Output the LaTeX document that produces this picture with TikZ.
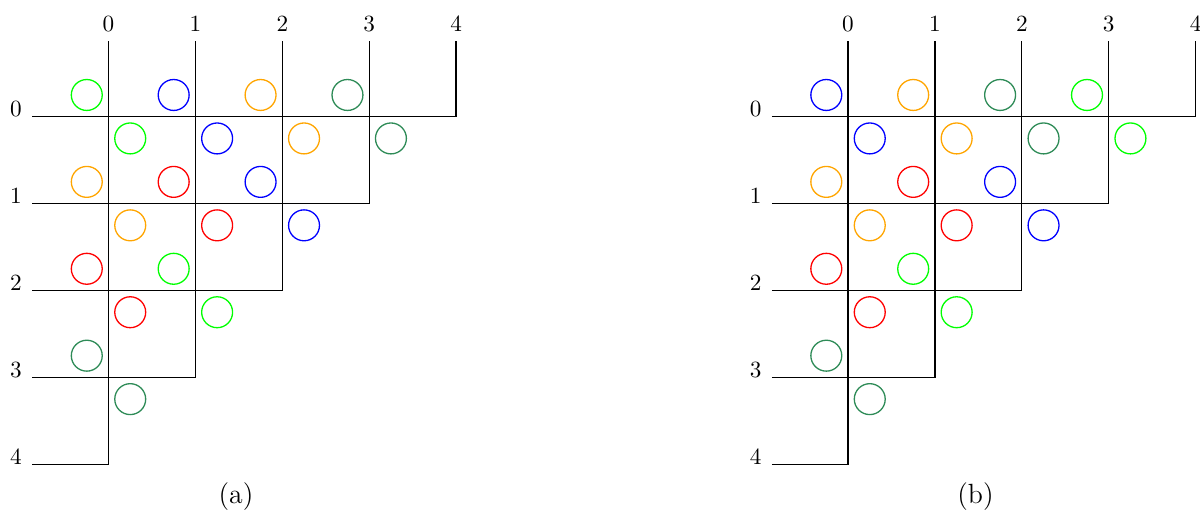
\documentclass[tikz,border=0pt]{standalone}
\usepackage{xcolor}
\definecolor{cOrange}{RGB}{255,165,0}
\definecolor{cSea}{RGB}{46,139,87}
\definecolor{cGreen}{RGB}{0,255,0}
\begin{document}
\begin{tikzpicture}[x=1.408cm,y=1.408cm,
  gridline/.style={black, line width=0.6pt},
  dot/.style={circle, draw, line width=0.6pt, minimum size=0.501cm, inner sep=0pt},
  idx/.style={anchor=base, font=\fontsize{10.7}{13}\selectfont},
  subcap/.style={anchor=base, font=\fontsize{12.8}{15}\selectfont}]
\useasboundingbox (-1.2486,1.343) rectangle ++(13.809,-5.892);

% panel (a)
\begin{scope}
  \foreach \k in {0,...,4} {
    \pgfmathtruncatemacro\e{4-\k}
    \draw[gridline] (-0.875,-\k) -- (\e,-\k) -- (\e,0.875);
    \node[idx] (a-col\k) at (\k,0.985) {\k};
    \node[idx] (a-row\k) at (-1.064,-\k) {\k};
  }
  \foreach \c/\r/\col in {0/0/cGreen,1/0/blue,2/0/cOrange,3/0/cSea,
                          0/1/cOrange,1/1/red,2/1/blue,
                          0/2/red,1/2/cGreen,
                          0/3/cSea} {
    \node[dot,draw=\col] (a-ul-\c-\r) at (\c-0.25,-\r+0.25) {};
    \node[dot,draw=\col] (a-lr-\c-\r) at (\c+0.25,-\r-0.25) {};
  }
  \node[subcap] (a-cap) at (1.467,-4.451) {(a)};
\end{scope}

% panel (b)
\begin{scope}[shift={(8.51,0)}]
  \foreach \k in {0,...,4} {
    \pgfmathtruncatemacro\e{4-\k}
    \draw[gridline] (-0.875,-\k) -- (\e,-\k) -- (\e,0.875);
    \node[idx] (b-col\k) at (\k,0.985) {\k};
    \node[idx] (b-row\k) at (-1.064,-\k) {\k};
  }
  \foreach \c/\r/\col in {0/0/blue,1/0/cOrange,2/0/cSea,3/0/cGreen,
                          0/1/cOrange,1/1/red,2/1/blue,
                          0/2/red,1/2/cGreen,
                          0/3/cSea} {
    \node[dot,draw=\col] (b-ul-\c-\r) at (\c-0.25,-\r+0.25) {};
    \node[dot,draw=\col] (b-lr-\c-\r) at (\c+0.25,-\r-0.25) {};
  }
  \node[subcap] (b-cap) at (1.467,-4.451) {(b)};
\end{scope}
\end{tikzpicture}
\end{document}
